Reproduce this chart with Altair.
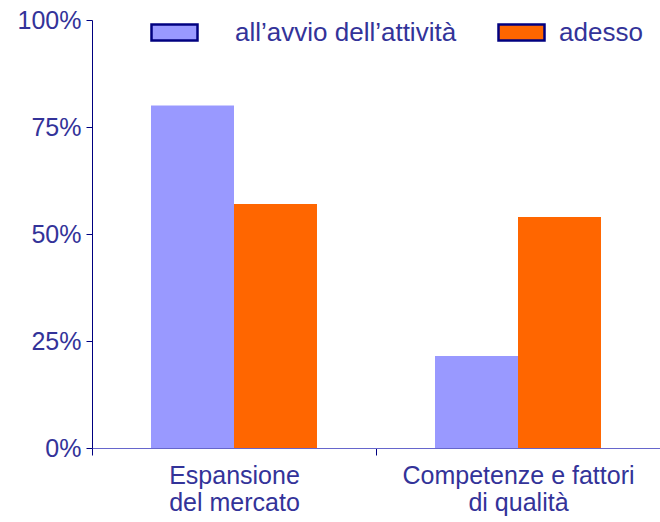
import json

import altair as alt
import pandas as pd

# Categories, their two-line axis labels, series and values (percent of respondents)
categories = ["Espansione del mercato", "Competenze e fattori di qualità"]
category_lines = [["Espansione", "del mercato"], ["Competenze e fattori", "di qualità"]]
series = ["all’avvio dell’attività", "adesso"]
start_values = [80, 21.5]
now_values = [57, 54]
series_colors = ["#9999FF", "#FF6600"]
y_ticks = [0, 25, 50, 75, 100]

# Legend placement per series: left edge of the swatch (from the plot's left) and text gap
legend_x = [58, 405]
legend_gap = [36, 13]

TEXT = "#333399"
NAVY = "#000080"
FONT = "Liberation Sans"

rows = []
for cat, s, n in zip(categories, start_values, now_values):
    rows.append({"ambito": cat, "periodo": series[0], "quota": s})
    rows.append({"ambito": cat, "periodo": series[1], "quota": n})
df = pd.DataFrame(rows)

# Label expression that turns each category into its two lines;
# the extra band-edge tick gets an empty label
label_expr = "''"
for cat, lines in reversed(list(zip(categories, category_lines))):
    label_expr = (
        f"datum.value == {json.dumps(cat, ensure_ascii=False)} ? "
        f"{json.dumps(lines, ensure_ascii=False)} : ({label_expr})"
    )

x_enc = alt.X(
    "ambito:N",
    sort=categories,
    scale=alt.Scale(paddingInner=0, paddingOuter=0),
    axis=alt.Axis(
        title=None,
        labelAngle=0,
        labelExpr=label_expr,
        labelFontSize=25,
        labelLineHeight=27,
        labelBaseline="top",
        labelPadding=8,
        labelLimit=0,
        labelColor=TEXT,
        tickBand="extent",
        tickSize=7,
        tickColor=NAVY,
        domainColor="#6666CC",
        grid=False,
    ),
)

y_enc = alt.Y(
    "quota:Q",
    scale=alt.Scale(domain=[0, 100]),
    axis=alt.Axis(
        title=None,
        values=y_ticks,
        labelExpr="datum.value + '%'",
        labelFontSize=25,
        labelColor=TEXT,
        labelPadding=5,
        tickSize=6,
        tickColor=NAVY,
        domainColor=NAVY,
        grid=False,
    ),
)

offset_enc = alt.XOffset(
    "periodo:N",
    sort=series,
    scale=alt.Scale(domain=series, paddingInner=0, paddingOuter=0.711),
)


def series_bars(i):
    """Bars of one series, with its own legend entry."""
    return (
        alt.Chart(df)
        .transform_filter(alt.datum.periodo == series[i])
        .mark_bar()
        .encode(
            x=x_enc,
            xOffset=offset_enc,
            y=y_enc,
            color=alt.Color(
                "periodo:N",
                scale=alt.Scale(domain=[series[i]], range=[series_colors[i]]),
                legend=alt.Legend(
                    title=None,
                    orient="none",
                    direction="horizontal",
                    legendX=legend_x[i],
                    legendY=-12,
                    padding=0,
                    symbolType="M-1,-0.35L1,-0.35L1,0.35L-1,0.35Z",
                    symbolSize=2116,
                    symbolStrokeColor=NAVY,
                    symbolStrokeWidth=2.5,
                    symbolOpacity=1,
                    labelFontSize=26,
                    labelColor=TEXT,
                    labelLimit=400,
                    labelOffset=legend_gap[i],
                ),
            ),
        )
    )


chart = (
    alt.layer(series_bars(0), series_bars(1))
    .resolve_scale(color="independent")
    .resolve_legend(color="independent")
    .properties(
        width=568,
        height=428,
        autosize=alt.AutoSizeParams(type="none"),
        padding={"left": 92, "top": 20, "right": 0, "bottom": 74},
    )
    .configure_view(strokeWidth=0)
    .configure_axis(labelFont=FONT)
    .configure_legend(labelFont=FONT)
)

chart.save("out.html", embed_options={"renderer": "svg", "actions": False})
